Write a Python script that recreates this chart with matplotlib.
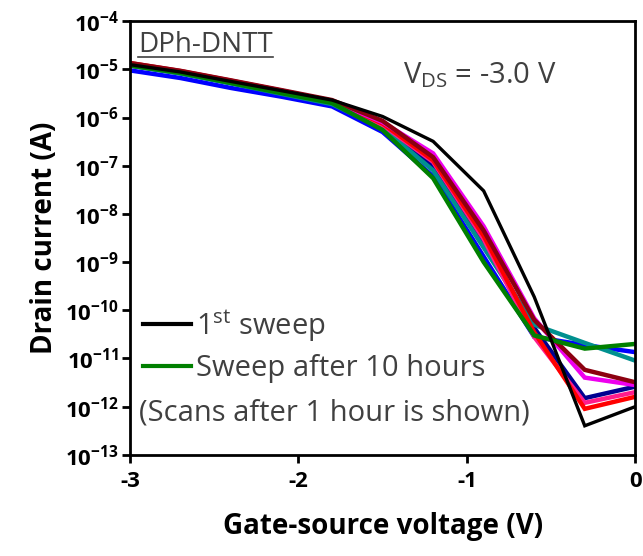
import matplotlib
matplotlib.use('Agg')
import matplotlib.pyplot as plt
from matplotlib.lines import Line2D
import numpy as np

plt.rcParams['font.family'] = ['Open Sans', 'DejaVu Sans']
plt.rcParams['mathtext.fontset'] = 'custom'
plt.rcParams['mathtext.rm'] = 'Open Sans'
plt.rcParams['mathtext.bf'] = 'Open Sans:bold'

# gate-source voltage sweep points (V)
vgs = [-3.0, -2.7, -2.4, -2.1, -1.8, -1.5, -1.2, -0.9, -0.6, -0.3, 0.0]

# drain current (A) for each sweep
id_first = [1.25e-5, 8.8e-6, 5.6e-6, 3.6e-6, 2.3e-6, 1.05e-6, 3.2e-7, 3.0e-8, 1.9e-10, 4.0e-13, 1.0e-12]
id_maroon = [1.35e-5, 9.3e-6, 5.9e-6, 3.7e-6, 2.3e-6, 8.5e-7, 1.5e-7, 4.5e-9, 6.3e-11, 5.8e-12, 3.2e-12]
id_magenta = [1.3e-5, 9.0e-6, 5.7e-6, 3.6e-6, 2.2e-6, 8.0e-7, 1.8e-7, 5.5e-9, 6.8e-11, 4.0e-12, 2.8e-12]
id_red = [1.35e-5, 9.2e-6, 5.8e-6, 3.6e-6, 2.2e-6, 7.5e-7, 1.3e-7, 3.5e-9, 3.5e-11, 9.0e-13, 1.6e-12]
id_pink = [1.3e-5, 8.9e-6, 5.6e-6, 3.5e-6, 2.1e-6, 7.0e-7, 1.2e-7, 3.0e-9, 2.8e-11, 1.2e-12, 2.0e-12]
id_navy = [1.2e-5, 8.3e-6, 5.2e-6, 3.2e-6, 2.0e-6, 6.5e-7, 1.0e-7, 2.5e-9, 4.3e-11, 1.5e-12, 2.6e-12]
id_teal = [1.2e-5, 8.2e-6, 5.1e-6, 3.1e-6, 1.9e-6, 6.0e-7, 8.0e-8, 2.0e-9, 5.0e-11, 2.1e-11, 9.0e-12]
id_blue = [9.5e-6, 6.6e-6, 4.1e-6, 2.7e-6, 1.7e-6, 5.0e-7, 6.0e-8, 1.3e-9, 2.8e-11, 1.9e-11, 1.35e-11]
id_10h = [1.2e-5, 8.4e-6, 5.2e-6, 3.2e-6, 2.0e-6, 5.5e-7, 5.5e-8, 1.0e-9, 3.0e-11, 1.6e-11, 2.0e-11]

hourly = [
    (id_blue, '#0000ff'),
    (id_navy, '#000090'),
    (id_teal, '#00908f'),
    (id_pink, '#ff1c8c'),
    (id_red, '#ff0000'),
    (id_magenta, '#ee00ee'),
    (id_maroon, '#8c0010'),
]

yticks = [1e-13, 1e-12, 1e-11, 1e-10, 1e-9, 1e-8, 1e-7, 1e-6, 1e-5, 1e-4]
xticks = [-3, -2, -1, 0]

fig = plt.figure(figsize=(6.43, 5.56), dpi=100)
ax = fig.add_axes([0.202, 0.182, 0.786, 0.780])

for values, col in hourly:
    ax.plot(vgs, values, color=col, lw=3.2, solid_joinstyle='miter')
ax.plot(vgs, id_10h, color='#008000', lw=3.2, solid_joinstyle='miter')
ax.plot(vgs, id_first, color='black', lw=2.4, solid_joinstyle='miter')

ax.set_yscale('log')
ax.set_xlim(-3, 0)
ax.set_ylim(1e-13, 1e-4)
ax.set_yticks(yticks)
ax.set_yticklabels([r'$\mathbf{10^{%d}}$' % int(np.log10(t)) for t in yticks])
ax.yaxis.set_minor_locator(matplotlib.ticker.NullLocator())
ax.set_xticks(xticks)
ax.set_xticklabels([str(t) for t in xticks], fontweight='bold')

for s in ax.spines.values():
    s.set_linewidth(2.0)
ax.tick_params(axis='both', direction='out', length=6, width=2.0, labelsize=16,
               top=False, right=False)
ax.tick_params(axis='x', pad=6)
ax.tick_params(axis='y', pad=2)

ax.set_xlabel('Gate-source voltage (V)', fontsize=20, fontweight='bold', labelpad=14)
ax.set_ylabel('Drain current (A)', fontsize=20, fontweight='bold', labelpad=4)

gray = '#404040'
name = ax.text(0.016, 0.945, 'DPh-DNTT', transform=ax.transAxes, fontsize=20,
               color=gray, ha='left', va='center')
ax.text(0.693, 0.876, r'V$_{\mathrm{DS}}$ = -3.0 V', transform=ax.transAxes,
        fontsize=21, color=gray, ha='center', va='center')

handles = [Line2D([], [], color='black', lw=3),
           Line2D([], [], color='#008000', lw=3)]
leg = ax.legend(handles, [r'1$^{\mathrm{st}}$ sweep', 'Sweep after 10 hours'],
                loc='center left', bbox_to_anchor=(0.026, 0.253), frameon=False,
                fontsize=21, handlelength=1.65, handletextpad=0.15,
                labelspacing=0.35, borderaxespad=0, borderpad=0)
for t in leg.get_texts():
    t.set_color(gray)
ax.text(0.018, 0.097, '(Scans after 1 hour is shown)', transform=ax.transAxes,
        fontsize=21, color=gray, ha='left', va='center')

# underline for the material name
fig.canvas.draw()
bb = name.get_window_extent().transformed(fig.transFigure.inverted())
fig.add_artist(Line2D([bb.x0, bb.x1], [bb.y0 + 0.004, bb.y0 + 0.004],
                      transform=fig.transFigure, color=gray, lw=1.2))

fig.savefig('out.png', dpi=100)
